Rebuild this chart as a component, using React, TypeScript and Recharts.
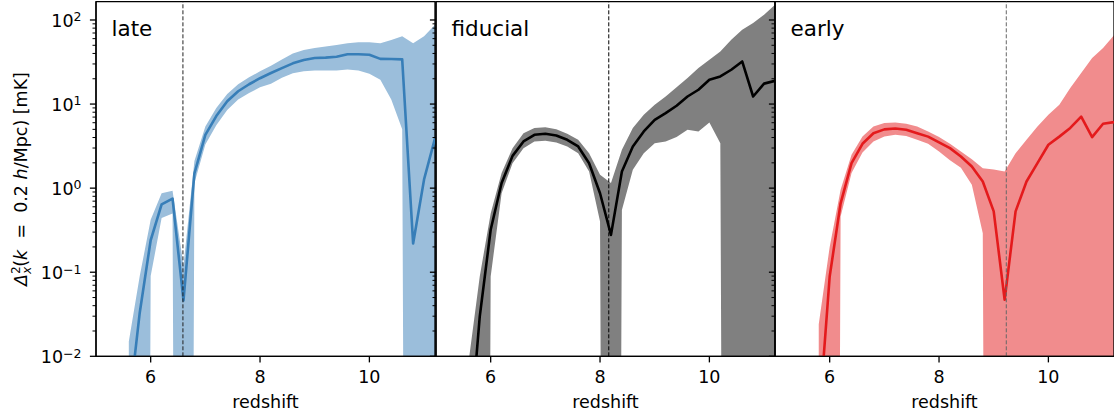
import React from 'react';
import { ComposedChart, Line, Area, XAxis, YAxis, ReferenceLine, ReferenceArea, Label } from 'recharts';

// ---------------- data ----------------
const redshift = [5.6, 5.8, 6.0, 6.2, 6.4, 6.6, 6.8, 7.0, 7.2, 7.4, 7.6, 7.8, 8.0, 8.2, 8.4, 8.6, 8.8, 9.0, 9.2, 9.4, 9.6, 9.8, 10.0, 10.2, 10.4, 10.6, 10.8, 11.0, 11.2];

// "late" reionization
const lateLine = [0.0024, 0.033, 0.24, 0.64, 0.75, 0.046, 1.5, 4.3, 7.2, 10.8, 14.2, 17.2, 20.3, 23.4, 26.8, 30.5, 33.5, 35.3, 35.7, 36.5, 39.2, 39.2, 38.6, 34.5, 34.3, 34.0, 0.22, 1.27, 3.9];
const lateUpper = [0.015, 0.09, 0.42, 0.87, 0.93, 0.12, 2.1, 5.4, 9.0, 13.2, 17.2, 20.8, 24.5, 28.5, 34, 40, 44, 46.5, 48.5, 50.5, 53, 54.3, 54.3, 53, 58, 64, 53, 64, 88];
const lateLower = [0, 0, 0.09, 0.44, 0.5, 0, 1.15, 3.3, 5.6, 8.5, 11.3, 13.5, 15.8, 17.5, 20.5, 23.2, 24.6, 25.1, 25, 25, 25.8, 25, 23, 19.5, 11.3, 5.0, 0, 0, 0];

// "fiducial" reionization
const fiducialLine = [0.0008, 0.0296, 0.32, 1.15, 2.42, 3.59, 4.31, 4.43, 4.23, 3.76, 3.13, 1.98, 0.87, 0.278, 1.58, 3.13, 4.72, 6.5, 7.8, 9.55, 12.3, 14.8, 19.5, 21.3, 25.6, 32.1, 12.3, 17.5, 18.9];
const fiducialUpper = [0.009, 0.089, 0.5, 1.51, 2.99, 4.5, 5.2, 5.3, 5.0, 4.43, 3.76, 2.6, 1.44, 1.15, 2.86, 5.2, 7.46, 9.8, 12.3, 15.9, 20.4, 26.8, 33.7, 42.3, 58.3, 76.7, 92, 115.6, 152];
const fiducialLower = [0, 0, 0.089, 0.87, 1.98, 2.99, 3.59, 3.65, 3.5, 3.13, 2.6, 1.58, 0.4, 0, 0.55, 1.65, 2.6, 3.43, 3.59, 4.05, 4.94, 4.72, 6.04, 3.43, 0, 0, 0, 0, 0];

// "early" reionization
const earlyLine = [null, 0.0016, 0.089, 0.66, 1.98, 3.37, 4.5, 5.0, 5.13, 4.94, 4.5, 4.1, 3.5, 2.99, 2.38, 1.81, 1.2, 0.53, 0.047, 0.53, 1.2, 1.98, 3.28, 4.1, 5.2, 7.1, 4.05, 5.83, 6.1];
const earlyUpper = [null, 0.024, 0.2, 0.955, 2.49, 4.1, 5.41, 5.94, 6.04, 5.83, 5.41, 4.72, 4.05, 3.37, 2.73, 2.21, 1.73, 1.67, 1.58, 2.6, 3.76, 5.41, 7.46, 9.8, 15.5, 23.4, 35.3, 46.4, 66];
const earlyLower = [null, 0, 0, 0.46, 1.51, 2.65, 3.59, 4.1, 4.31, 4.18, 3.76, 3.37, 2.73, 2.15, 1.75, 1.1, 0.29, 0, 0, 0, 0, 0, 0, 0, 0, 0, 0, 0, 0];

// redshift of the reionization midpoint (dashed lines)
const midLate = 6.59;
const midFiducial = 8.16;
const midEarly = 9.23;

const panelTitles = ['late', 'fiducial', 'early'];
const xTicks = [6, 8, 10];
const yMajorTicks = [0.01, 0.1, 1, 10, 100];
const yMajorExponents = ['\u22122', '\u22121', '0', '1', '2'];
const xDomain = [5, 11.2];
const yDomain = [0.01, 165];

// ---------------- helpers ----------------
const LOG_FLOOR = 1e-30; // non-positive values clipped like matplotlib's log scale
const FONT = '"DejaVu Sans", Verdana, sans-serif';
const SPINE = 1.3;

const yMinorTicks: number[] = [];
yMajorTicks.forEach((d) => {
  for (let k = 2; k <= 9; k++) {
    const v = k * d;
    if (v < yDomain[1]) yMinorTicks.push(v);
  }
});
const yAllTicks = [...yMajorTicks, ...yMinorTicks].sort((a, b) => a - b);

function buildRows(line: (number | null)[], upper: (number | null)[], lower: (number | null)[]) {
  return redshift.map((z, i) => ({
    z,
    v: line[i],
    band: upper[i] == null ? null : [Math.max(lower[i] as number, LOG_FLOOR), upper[i] as number],
  }));
}

const makeYTick = (showLabels: boolean) => (props: any) => {
  const { x, y, payload } = props;
  const v = payload.value;
  const idx = yMajorTicks.findIndex((m) => Math.abs(m - v) / m < 1e-6);
  const major = idx >= 0;
  const len = major ? 6.1 : 3.5;
  return (
    <g>
      <line x1={x - len} x2={x} y1={y} y2={y} stroke="#000" strokeWidth={major ? SPINE : 1} />
      {major && showLabels && (
        <text x={x - 14.5} y={y + 7} textAnchor="end" fontFamily={FONT} fontSize={17.5} fill="#000">
          10
          <tspan fontSize={12.5} dy={-5.7}>
            {yMajorExponents[idx]}
          </tspan>
        </text>
      )}
    </g>
  );
};

const XTick = (props: any) => {
  const { x, y, payload } = props;
  return (
    <g>
      <line x1={x} x2={x} y1={y} y2={y + 6.1} stroke="#000" strokeWidth={SPINE} />
      <text x={x} y={y + 27} textAnchor="middle" fontFamily={FONT} fontSize={17.5} fill="#000">
        {payload.value}
      </text>
    </g>
  );
};

const xLabelContent = (props: any) => {
  const vb = props.viewBox || {};
  return (
    <text x={vb.x + vb.width / 2} y={vb.y + 51.2} textAnchor="middle" fontFamily={FONT} fontSize={17.5} fill="#000">
      redshift
    </text>
  );
};

const yLabelContent = (props: any) => {
  const vb = props.viewBox || {};
  const bx = vb.x + 27.3;
  const cy = vb.y + vb.height / 2;
  return (
    <text
      x={bx}
      y={cy}
      transform={`rotate(-90 ${bx} ${cy})`}
      textAnchor="middle"
      fontFamily={FONT}
      fontSize={17.5}
      fill="#000"
      style={{ whiteSpace: 'pre' }}
    >
      <tspan fontStyle="italic">Δ</tspan>
      <tspan fontSize={12.25} dy={-7}>2</tspan>
      <tspan fontSize={12.25} fontStyle="italic" dx={-7.8} dy={11}>x</tspan>
      <tspan dy={-4}>(</tspan>
      <tspan fontStyle="italic">k</tspan>
      <tspan>{'  =  0.2 '}</tspan>
      <tspan fontStyle="italic">h</tspan>
      <tspan>/Mpc) [mK]</tspan>
    </text>
  );
};

const titleContent = (title: string) => (props: any) => {
  const vb = props.viewBox || {};
  return (
    <text x={vb.x + 15.5} y={vb.y + 34.3} fontFamily={FONT} fontSize={21.5} fill="#000">
      {title}
    </text>
  );
};

const PLOT_W = 339;
const AXIS_W = 96;
const RIGHT_PAD = 6;
const CHART_W = AXIS_W + PLOT_W + RIGHT_PAD;
const CHART_H = 418;

type PanelProps = {
  rows: any[];
  color: string;
  bandColor: string;
  mid: number;
  midColor: string;
  title: string;
  showYLabels: boolean;
  left: number;
};

function Panel({ rows, color, bandColor, mid, midColor, title, showYLabels, left }: PanelProps) {
  const spine = { stroke: '#000', strokeWidth: SPINE };
  return (
    <div style={{ position: 'absolute', left, top: 0 }}>
      <ComposedChart width={CHART_W} height={CHART_H} data={rows} margin={{ top: 1.7, right: RIGHT_PAD, bottom: 0, left: 0 }}>
        <Area
          dataKey="band"
          stroke="none"
          fill={bandColor}
          fillOpacity={1}
          dot={false}
          activeDot={false}
          isAnimationActive={false}
        />
        <Line
          dataKey="v"
          stroke={color}
          strokeWidth={2.6}
          strokeLinejoin="round"
          dot={false}
          activeDot={false}
          isAnimationActive={false}
        />
        <ReferenceLine x={mid} stroke={midColor} strokeWidth={1} strokeDasharray="4 2" />
        <XAxis
          dataKey="z"
          type="number"
          domain={xDomain}
          allowDataOverflow
          ticks={xTicks}
          interval={0}
          height={61.7}
          tickSize={0}
          tickMargin={0}
          tickLine={false}
          tick={XTick}
          axisLine={spine}
        >
          <Label content={xLabelContent} />
        </XAxis>
        <YAxis
          type="number"
          scale="log"
          domain={yDomain}
          allowDataOverflow
          ticks={yAllTicks}
          interval={0}
          width={AXIS_W}
          tickSize={0}
          tickMargin={0}
          tickLine={false}
          tick={makeYTick(showYLabels)}
          axisLine={spine}
        >
          {showYLabels ? <Label content={yLabelContent} /> : null}
        </YAxis>
        <ReferenceArea
          x1={xDomain[0]}
          x2={xDomain[1]}
          y1={yDomain[0]}
          y2={yDomain[1]}
          fill="none"
          fillOpacity={0}
          stroke="#000"
          strokeWidth={SPINE}
          strokeOpacity={1}
          ifOverflow="visible"
        >
          <Label content={titleContent(title)} />
        </ReferenceArea>
      </ComposedChart>
    </div>
  );
}

export default function App() {
  const lateRows = buildRows(lateLine, lateUpper, lateLower);
  const fiducialRows = buildRows(fiducialLine, fiducialUpper, fiducialLower);
  const earlyRows = buildRows(earlyLine, earlyUpper, earlyLower);
  return (
    <div style={{ position: 'absolute', left: 0, top: 0, width: 1114, height: 418, overflow: 'hidden', background: '#fff' }}>
      <Panel rows={lateRows} color="#377eb8" bandColor="#9bbedb" mid={midLate} midColor="#222" title={panelTitles[0]} showYLabels left={0} />
      <Panel rows={fiducialRows} color="#000000" bandColor="#808080" mid={midFiducial} midColor="#000" title={panelTitles[1]} showYLabels={false} left={339.6} />
      <Panel rows={earlyRows} color="#e41a1c" bandColor="#f18c8d" mid={midEarly} midColor="#666" title={panelTitles[2]} showYLabels={false} left={679.3} />
    </div>
  );
}
